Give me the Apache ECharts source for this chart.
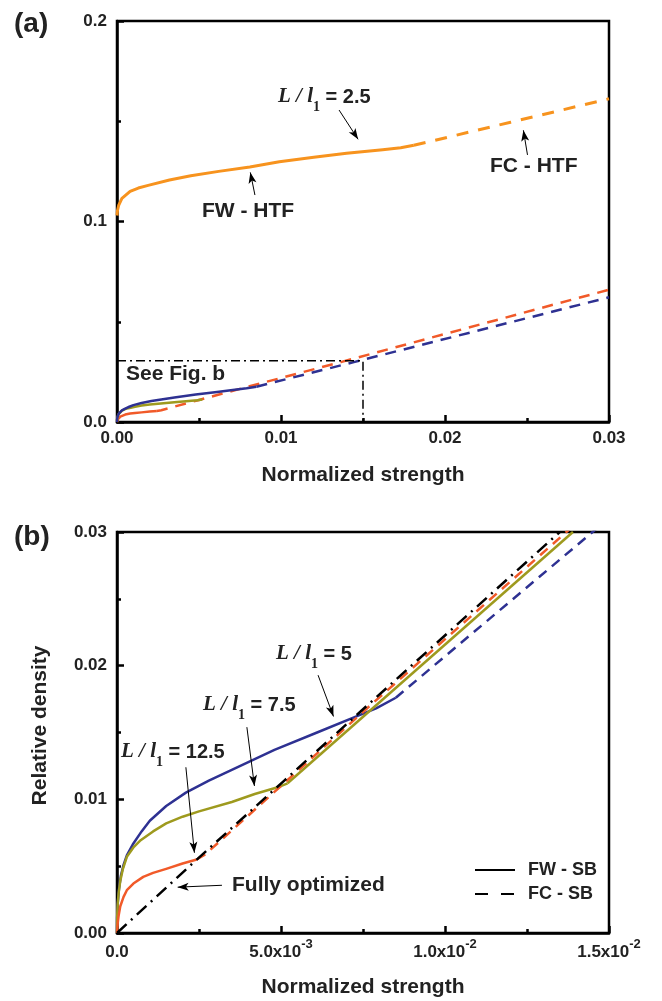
<!DOCTYPE html>
<html><head><meta charset="utf-8">
<script src="https://cdn.jsdelivr.net/npm/echarts@6/dist/echarts.min.js"></script>
<style>html,body{margin:0;padding:0;background:#fff}#c{width:662px;height:1001px}</style>
</head><body><div id="c"></div>
<script>
// ---------------- data ----------------
// Panel (a): L/l1 = 2.5, HTF
const fwHTF_25 = [[0,0.103],[0.00003,0.1055],[0.0001,0.108],[0.0003,0.1115],[0.0008,0.115],[0.0013,0.1167],[0.0019,0.118],[0.0032,0.1207],[0.0045,0.1228],[0.0062,0.125],[0.0081,0.1272],[0.0099,0.1298],[0.012,0.132],[0.014,0.134],[0.0162,0.1358],[0.0173,0.1368],[0.0181,0.138]];
const fcHTF_25 = [[0.0181,0.138],[0.024,0.1495],[0.03,0.1612]];
// L/l1 = 5 (SB)
const fwSB_5 = [[0,0],[0.000005,0.0012],[0.00002,0.0022],[0.00006,0.0033],[0.00012,0.0043],[0.0002,0.0051],[0.0003,0.0058],[0.0005,0.0067],[0.00075,0.0076],[0.001,0.0084],[0.0015,0.0095],[0.0021,0.0105],[0.0028,0.0114],[0.0035,0.0122],[0.0048,0.0137],[0.0061,0.015],[0.0073,0.0162],[0.0079,0.0168],[0.0085,0.0176]];
const fcSB_5 = [[0.0085,0.0176],[0.0145,0.03],[0.03,0.0622]];
// L/l1 = 7.5 (SB)
const fwSB_75 = [[0,0],[0.000005,0.0011],[0.00002,0.0021],[0.00005,0.003],[0.0001,0.0039],[0.00018,0.0048],[0.0003,0.0057],[0.0005,0.0064],[0.0007,0.0069],[0.0011,0.0076],[0.0015,0.0082],[0.002,0.0087],[0.0025,0.0091],[0.0035,0.0098],[0.0042,0.0104],[0.0049,0.0109],[0.0052,0.0112]];
const fwSB_75_after = [[0.0052,0.0112],[0.0139,0.03]];
// L/l1 = 12.5 (SB)
const fwSB_125 = [[0,0],[0.00002,0.0007],[0.00005,0.0013],[0.0001,0.002],[0.0002,0.0027],[0.0003,0.0032],[0.0005,0.0037],[0.0008,0.0042],[0.0011,0.0045],[0.0015,0.0048],[0.002,0.0052],[0.00243,0.0055]];
const fcSB_125 = [[0.00243,0.0055],[0.0027,0.0059],[0.005,0.011],[0.0078,0.0172],[0.0137,0.03],[0.03,0.066]];
// Fully optimized
const fullyOptimized = [[0,0],[0.0023,0.0052],[0.0051,0.0114],[0.0078,0.0174],[0.0135,0.03]];
// "See Fig. b" box
const seeFigBox = [[0,0.0305],[0.015,0.0305],[0.015,0]];
// Annotation arrows [from, to] in data coordinates
const arrowsA = [[[0.01354,0.1556],[0.01470,0.1410]],[[0.00841,0.1132],[0.00813,0.1245]],[[0.02503,0.1332],[0.02478,0.1455]]];
const arrowsB = [[[0.00613,0.01929],[0.00660,0.01620]],[[0.00396,0.0154],[0.00419,0.0110]],[[0.0021,0.0124],[0.00236,0.0060]],[[0.0032,0.00357],[0.00185,0.00343]]];
// Tick labels
const xLabelsA = ['0.00','0.01','0.02','0.03'];
const yLabelsA = ['0.0','0.1','0.2'];
const xLabelsB = ['{m|0.0}','{m|5.0x10}{s|-3}','{m|1.0x10}{s|-2}','{m|1.5x10}{s|-2}'];
const yLabelsB = ['0.00','0.01','0.02','0.03'];

// ---------------- styling ----------------
const SANS = 'Liberation Sans', SERIF = 'Liberation Serif';
const TXT = '#222';
const ORANGE = '#F7931E', BLUE = '#2E3192', OLIVE = '#9E9A1E', RED = '#F15A29', BLACK = '#000';

function axis(grid, min, max, interval, fmt, isX, extra) {
  return Object.assign({
    type: 'value', gridIndex: grid, min: min, max: max, interval: interval,
    axisLine: {show: true, onZero: false, lineStyle: {color: BLACK, width: 2.5}},
    axisTick: {show: true, inside: true, length: 7, lineStyle: {color: BLACK, width: 2.5}},
    minorTick: {show: true, splitNumber: 2, length: 4, lineStyle: {color: BLACK, width: 2.5}},
    splitLine: {show: false}, minorSplitLine: {show: false},
    axisLabel: {formatter: fmt, fontFamily: SANS, fontWeight: 'bold', fontSize: 17, color: TXT,
      margin: isX ? 8 : 10, showMinLabel: true, showMaxLabel: true, hideOverlap: false},
    nameTextStyle: {fontFamily: SANS, fontWeight: 'bold', fontSize: 21, color: TXT}
  }, extra || {});
}

function line(xi, data, color, dash, width, extra) {
  return Object.assign({
    type: 'line', xAxisIndex: xi, yAxisIndex: xi, data: data, symbol: 'none', showSymbol: false,
    smooth: false, silent: true,
    itemStyle: {color: color},
    lineStyle: {color: color, width: width || 2.5, type: dash || 'solid', join: 'round'},
    emphasis: {disabled: true}
  }, extra || {});
}

function arrowMark(list) {
  return {
    silent: true, symbol: ['none', 'arrow'], symbolSize: [6, 11], animation: false,
    lineStyle: {color: BLACK, width: 1, type: 'solid'}, label: {show: false},
    emphasis: {disabled: true},
    data: list.map(a => [{coord: a[0]}, {coord: a[1]}])
  };
}

const LL = {
  i: {fontFamily: SERIF, fontStyle: 'italic', fontWeight: 'bold', fontSize: 21, lineHeight: 34, fill: TXT},
  s: {fontFamily: SERIF, fontWeight: 'bold', fontSize: 14, lineHeight: 14, verticalAlign: 'bottom', fill: TXT},
  n: {fontFamily: SANS, fontWeight: 'bold', fontSize: 20, lineHeight: 34, fill: TXT}
};
function llText(x, y, val) {
  return {type: 'text', x: x, y: y, silent: true,
    style: {text: '{i|L / l}{s|1}{n| = ' + val + '}', rich: LL, verticalAlign: 'middle', align: 'left'}};
}
function plainText(x, y, txt, size) {
  return {type: 'text', x: x, y: y, silent: true,
    style: {text: txt, font: 'bold ' + (size || 21) + 'px "' + SANS + '"', fill: TXT, verticalAlign: 'middle', align: 'left'}};
}

const chart = echarts.init(document.getElementById('c'), null, {renderer: 'canvas'});
chart.setOption({
  animation: false,
  backgroundColor: '#fff',
  grid: [
    {left: 117, top: 21, width: 492, height: 401, show: true, borderColor: BLACK, borderWidth: 2.5, outerBoundsMode: 'none', containLabel: false},
    {left: 117, top: 532, width: 492, height: 401, show: true, borderColor: BLACK, borderWidth: 2.5, outerBoundsMode: 'none', containLabel: false}
  ],
  xAxis: [
    axis(0, 0, 0.03, 0.01, v => xLabelsA[Math.round(v / 0.01)], true,
      {name: 'Normalized strength', nameLocation: 'middle', nameGap: 43}),
    axis(1, 0, 0.015, 0.005, v => xLabelsB[Math.round(v / 0.005)], true,
      {name: 'Normalized strength', nameLocation: 'middle', nameGap: 44})
  ],
  yAxis: [
    axis(0, 0, 0.2, 0.1, v => yLabelsA[Math.round(v / 0.1)], false),
    axis(1, 0, 0.03, 0.01, v => yLabelsB[Math.round(v / 0.01)], false,
      {name: 'Relative density', nameLocation: 'middle', nameGap: 66})
  ],
  legend: {
    show: true, orient: 'vertical', left: 469, top: 856, itemWidth: 40, itemHeight: 14, itemGap: 6,
    selectedMode: false, data: ['FW - SB', 'FC - SB'],
    itemStyle: {color: 'transparent', borderColor: 'transparent', borderWidth: 0, opacity: 0},
    textStyle: {fontFamily: SANS, fontWeight: 'bold', fontSize: 18, color: TXT, padding: [0, 0, 0, 8]}
  },
  series: [
    // panel (a)
    line(0, fwHTF_25, ORANGE, 'solid', 3),
    line(0, fcHTF_25, ORANGE, [12, 10], 3),
    line(0, fwSB_125, RED),
    line(0, fcSB_125, RED, [11, 8]),
    line(0, fwSB_75, OLIVE),
    line(0, fwSB_5, BLUE),
    line(0, fcSB_5, BLUE, [11, 8]),
    line(0, seeFigBox, BLACK, [9, 4, 2, 4], 1.5, {markLine: arrowMark(arrowsA)}),
    // panel (b)
    line(1, fwSB_5, BLUE),
    line(1, fcSB_5, BLUE, [10, 7]),
    line(1, fwSB_75, OLIVE),
    line(1, fwSB_75_after, OLIVE),
    line(1, fwSB_125, RED),
    line(1, fcSB_125, RED, [10, 7]),
    line(1, fullyOptimized, BLACK, [13, 6, 2, 6], 2.5, {markLine: arrowMark(arrowsB)}),
    // legend entries
    line(1, [], BLACK, 'solid', 3, {name: 'FW - SB'}),
    line(1, [], BLACK, [13, 13], 3, {name: 'FC - SB'})
  ],
  graphic: [
    plainText(14, 24, '(a)', 28),
    plainText(14, 537, '(b)', 28),
    llText(278, 97, '2.5'),
    plainText(202, 211, 'FW - HTF'),
    plainText(490, 166, 'FC - HTF'),
    plainText(126, 374, 'See Fig. b'),
    llText(276, 654, '5'),
    llText(203, 705, '7.5'),
    llText(121, 752, '12.5'),
    plainText(232, 885, 'Fully optimized')
  ]
});
// rich x labels for panel (b)
chart.setOption({
  xAxis: [{}, {axisLabel: {margin: 5, rich: {
    m: {fontFamily: SANS, fontWeight: 'bold', fontSize: 17, lineHeight: 28, color: TXT},
    s: {fontFamily: SANS, fontWeight: 'bold', fontSize: 13, lineHeight: 13, verticalAlign: 'top', color: TXT}
  }}}],
  yAxis: [{}, {nameTextStyle: {padding: [0, 0, 0, 14]}}]
});
</script></body></html>
